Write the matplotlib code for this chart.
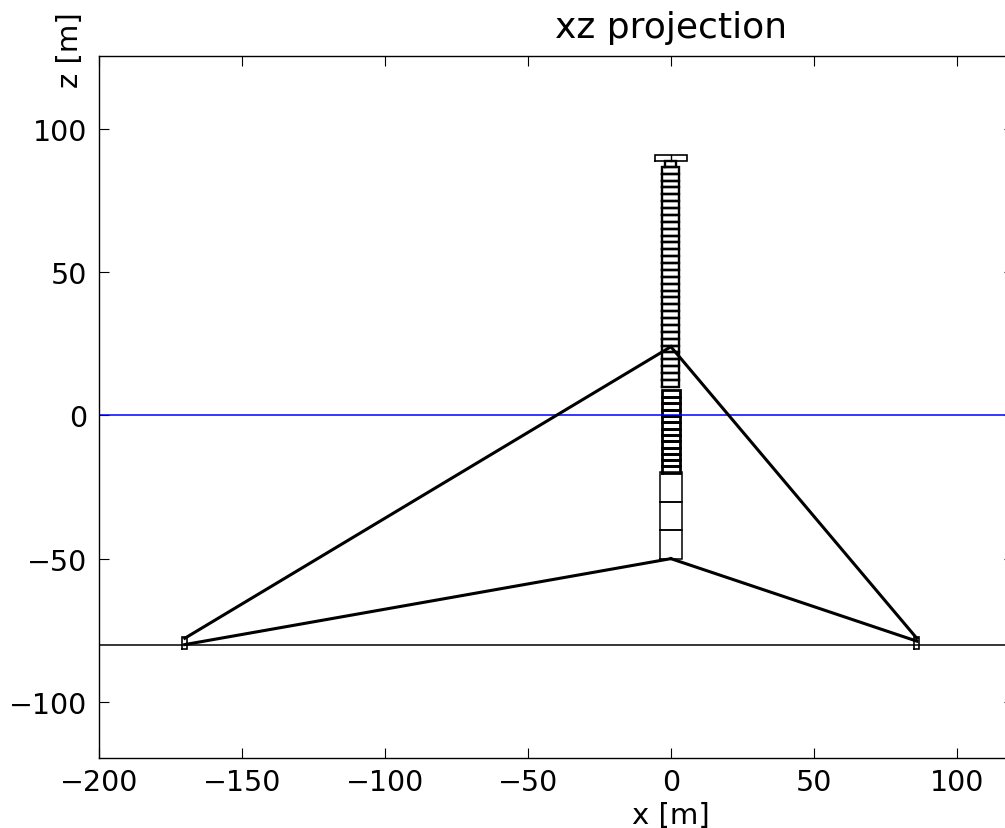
import matplotlib
matplotlib.use("Agg")
import matplotlib.pyplot as plt

W, H = 1005, 829
# tower segment boundaries (z, m)
upper_tower_z = [10.0, 12.4, 14.8, 17.2, 19.6, 22.0, 24.4, 26.8, 29.2, 31.6, 34.0, 36.4, 38.8, 41.2, 43.6,
                 46.0, 48.4, 50.8, 53.2, 55.6, 58.0, 60.4, 62.8, 65.2, 67.6, 70.0, 72.4, 74.8, 77.2, 79.6,
                 82.0, 84.4, 86.8, 88.9]
upper_tower_halfwidth = [2.95, 2.95, 2.95, 2.95, 2.95, 2.95, 2.95, 2.95, 2.95, 2.95, 2.95, 2.95, 2.95, 2.95,
                         2.95, 2.95, 2.95, 2.95, 2.95, 2.95, 2.95, 2.95, 2.95, 2.95, 2.95, 2.95, 2.95, 2.95,
                         2.95, 2.95, 2.95, 2.95, 1.9]
lower_tower_z = [-20.0, -17.8, -15.6, -13.4, -11.2, -9.0, -6.8, -4.6, -2.4, -0.2, 2.0, 4.2, 6.4, 9.0]
lower_tower_halfwidth = 3.1
spar_z = [-50.0, -40.0, -30.2, -19.7]
spar_halfwidth = 3.9
nacelle_x = [-5.5, 5.5]
nacelle_z = [88.9, 90.9]
# mooring lines: fairlead -> anchor
fairlead_upper = (0.0, 24.0)
fairlead_lower = (0.0, -50.0)
anchor_left = (-170.0, -77.8)
anchor_left_bottom = (-170.0, -80.0)
anchor_right = (86.0, -77.8)
anchor_right_bottom = (86.0, -78.8)
anchor_half = 0.8
anchor_z = [-81.5, -77.5]
water_z = 0
seabed_z = -80
xticks = [-200, -150, -100, -50, 0, 50, 100]
yticks = [-100, -50, 0, 50, 100]

fig = plt.figure(figsize=(W / 100, H / 100), dpi=100)
ax = fig.add_axes([99 / W, 1 - 759 / H, (1014 - 99) / W, (759 - 57) / H])

def box(x0, x1, z0, z1, lw):
    ax.plot([x0, x1, x1, x0, x0], [z0, z0, z1, z1, z0], color="k", lw=lw, solid_joinstyle="miter")

for z0, z1, hw in zip(upper_tower_z[:-1], upper_tower_z[1:], upper_tower_halfwidth):
    box(-hw, hw, z0, z1, 1.7)
for z0, z1 in zip(lower_tower_z[:-1], lower_tower_z[1:]):
    box(-lower_tower_halfwidth, lower_tower_halfwidth, z0, z1, 2.0)
for z0, z1 in zip(spar_z[:-1], spar_z[1:]):
    box(-spar_halfwidth, spar_halfwidth, z0, z1, 1.1)
box(nacelle_x[0], nacelle_x[1], nacelle_z[0], nacelle_z[1], 1.2)
ax.plot([0, 0], nacelle_z, color="k", lw=1.0)

ax.axhline(water_z, color="b", lw=1.1)
ax.axhline(seabed_z, color="k", lw=1.1)

for p, q in [(fairlead_upper, anchor_left), (fairlead_upper, anchor_right),
             (fairlead_lower, anchor_left_bottom), (fairlead_lower, anchor_right_bottom)]:
    ax.plot([p[0], q[0]], [p[1], q[1]], color="k", lw=2.2)
for xc in (anchor_left[0], anchor_right[0]):
    box(xc - anchor_half, xc + anchor_half, anchor_z[0], anchor_z[1], 1.2)

ax.set_xlim(-200, 120)
ax.set_ylim(-119.6, 125.5)
ax.set_xticks(xticks)
ax.set_yticks(yticks)
ax.tick_params(direction="in", top=True, right=True, length=7.5, width=0.8, labelsize=20.5)
ax.tick_params(axis="x", pad=7.5)
ax.tick_params(axis="y", pad=8.5)
ax.set_xlabel("x [m]", fontsize=21)
ax.xaxis.set_label_coords((671 - 99) / (1014 - 99), -(816 - 759) / (759 - 57))
ax.xaxis.label.set_verticalalignment("center")
fig.text(70 / W, 1 - 50 / H, "z [m]", fontsize=21, rotation=90, ha="center", va="center")
fig.text(671 / W, 1 - 28 / H, "xz projection", fontsize=26, ha="center", va="center")
for s in ax.spines.values():
    s.set_linewidth(1.0)
fig.savefig("out.png", dpi=100)
